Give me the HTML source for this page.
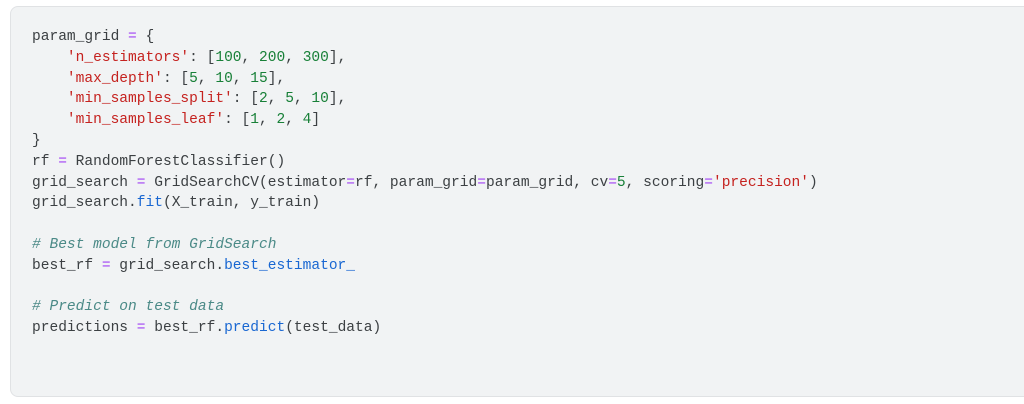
<!DOCTYPE html>
<html><head><meta charset="utf-8"><style>
html,body{margin:0;padding:0;background:#fff;width:1024px;height:404px;overflow:hidden}
.box{position:absolute;left:10px;top:6px;width:1024px;height:391px;background:#f1f3f4;border:1px solid #e0e2e4;border-radius:8px;box-sizing:border-box}
pre{position:absolute;left:32px;top:27px;margin:0;font-family:"Liberation Mono",monospace;font-size:14.55px;line-height:20.8px;color:#3c4043}
.s{color:#c5221f}.n{color:#188038}.o{color:#a142f4}.f{color:#1967d2}.c{color:#4b8a87;font-style:italic}
</style></head><body><div class="box"></div><pre>param_grid <span class="o">=</span> {
    <span class="s">'n_estimators'</span>: [<span class="n">100</span>, <span class="n">200</span>, <span class="n">300</span>],
    <span class="s">'max_depth'</span>: [<span class="n">5</span>, <span class="n">10</span>, <span class="n">15</span>],
    <span class="s">'min_samples_split'</span>: [<span class="n">2</span>, <span class="n">5</span>, <span class="n">10</span>],
    <span class="s">'min_samples_leaf'</span>: [<span class="n">1</span>, <span class="n">2</span>, <span class="n">4</span>]
}
rf <span class="o">=</span> RandomForestClassifier()
grid_search <span class="o">=</span> GridSearchCV(estimator<span class="o">=</span>rf, param_grid<span class="o">=</span>param_grid, cv<span class="o">=</span><span class="n">5</span>, scoring<span class="o">=</span><span class="s">'precision'</span>)
grid_search.<span class="f">fit</span>(X_train, y_train)

<span class="c"># Best model from GridSearch</span>
best_rf <span class="o">=</span> grid_search.<span class="f">best_estimator_</span>

<span class="c"># Predict on test data</span>
predictions <span class="o">=</span> best_rf.<span class="f">predict</span>(test_data)
</pre></body></html>
